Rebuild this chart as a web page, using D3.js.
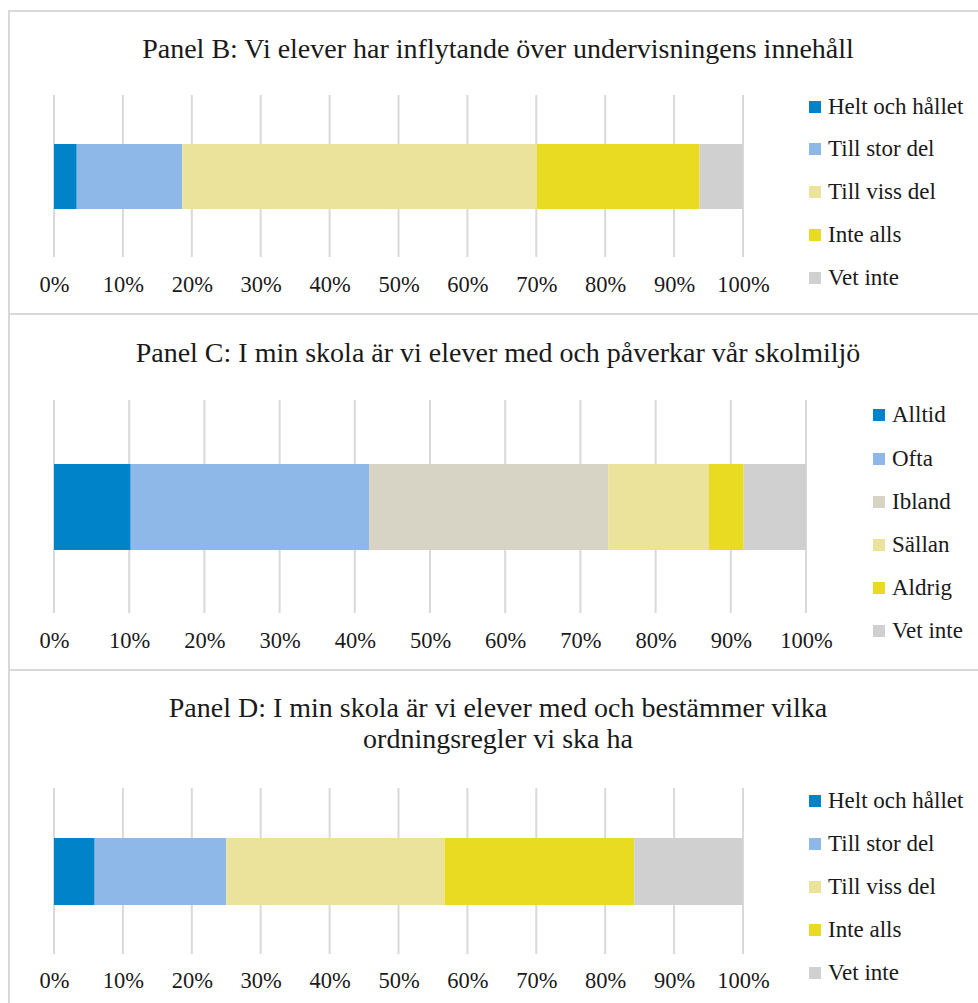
<!DOCTYPE html>
<html><head><meta charset="utf-8">
<script src="https://cdn.jsdelivr.net/npm/d3@7"></script>
<style>body{margin:0;background:#fff}svg{display:block}</style>
</head><body><svg id="c" width="978" height="1003"></svg>
<script>
// ---- data ----
const titleB = ["Panel B: Vi elever har inflytande över undervisningens innehåll"];
const catsB = ["Helt och hållet","Till stor del","Till viss del","Inte alls","Vet inte"];
const valsB = [3.3, 15.3, 51.5, 23.6, 6.3];
const colsB = ["#0083C8","#8DB8E7","#EBE39C","#E9DA22","#D0D0D0"];

const titleC = ["Panel C: I min skola är vi elever med och påverkar vår skolmiljö"];
const catsC = ["Alltid","Ofta","Ibland","Sällan","Aldrig","Vet inte"];
const valsC = [10.2, 31.7, 31.8, 13.4, 4.6, 8.3];
const colsC = ["#0083C8","#8DB8E7","#D7D4C5","#EBE39C","#E9DA22","#D0D0D0"];

const titleD = ["Panel D: I min skola är vi elever med och bestämmer vilka","ordningsregler vi ska ha"];
const catsD = ["Helt och hållet","Till stor del","Till viss del","Inte alls","Vet inte"];
const valsD = [5.9, 19.1, 31.7, 27.5, 15.8];
const colsD = catsD.map((c,i)=>colsB[i]);

const tickVals = [0,10,20,30,40,50,60,70,80,90,100];

// ---- layout ----
const FONT = '"Liberation Serif","DejaVu Serif",serif';
const panels = [
  {title:titleB, cats:catsB, vals:valsB, cols:colsB, box:[11,314], titleY:[58], x0:54, x1:743, gy:[95,257], bar:[144,209], tickY:292, legX:809, legY:[107,149,192,235,278]},
  {title:titleC, cats:catsC, vals:valsC, cols:colsC, box:[314,670], titleY:[362], x0:54, x1:806, gy:[400,613], bar:[464,550], tickY:648, legX:873, legY:[415,459,502,545,588,631]},
  {title:titleD, cats:catsD, vals:valsD, cols:colsD, box:[670,1010], titleY:[717,748], x0:54, x1:743, gy:[788,954], bar:[838,905], tickY:988, legX:809, legY:[801,844,887,930,973]}
];

const svg = d3.select("#c");
svg.append("rect").attr("width",978).attr("height",1003).attr("fill","#fff");

panels.forEach(p=>{
  const g = svg.append("g");
  g.append("rect").attr("x",9).attr("y",p.box[0]).attr("width",1000).attr("height",p.box[1]-p.box[0])
    .attr("fill","none").attr("stroke","#D9D9D9").attr("stroke-width",2);
  p.title.forEach((t,i)=>{
    g.append("text").attr("x",498).attr("y",p.titleY[i]).attr("text-anchor","middle")
      .attr("font-family",FONT).attr("font-size",28).attr("fill","#1a1a1a").text(t);
  });
  const x = d3.scaleLinear().domain([0,100]).range([p.x0,p.x1]);
  g.selectAll(".grid").data(tickVals).enter().append("line")
    .attr("x1",d=>x(d)).attr("x2",d=>x(d)).attr("y1",p.gy[0]).attr("y2",p.gy[1])
    .attr("stroke","#D9D9D9").attr("stroke-width",2);
  let cum = 0;
  const segs = p.vals.map((v,i)=>{const s={x0:cum,x1:cum+v,c:p.cols[i]}; cum+=v; return s;});
  g.selectAll(".seg").data(segs).enter().append("rect")
    .attr("x",d=>x(d.x0)).attr("width",d=>x(d.x1)-x(d.x0))
    .attr("y",p.bar[0]).attr("height",p.bar[1]-p.bar[0]).attr("fill",d=>d.c);
  const ax = d3.axisBottom(x).tickValues(tickVals).tickFormat(d=>d+"%").tickSize(0);
  const axg = g.append("g").attr("transform",`translate(0,${p.tickY})`).call(ax)
    .attr("font-family",FONT).attr("font-size",22.5);
  axg.select(".domain").remove();
  axg.selectAll("text").attr("dy",0).attr("y",0).attr("fill","#1a1a1a");
  const lg = g.selectAll(".leg").data(p.cats).enter().append("g")
    .attr("transform",(d,i)=>`translate(${p.legX},${p.legY[i]})`);
  lg.append("rect").attr("x",0).attr("y",-6).attr("width",12).attr("height",12).attr("fill",(d,i)=>p.cols[i]);
  lg.append("text").attr("x",19).attr("y",7).attr("font-family",FONT).attr("font-size",23)
    .attr("fill","#1a1a1a").text(d=>d);
});
</script></body></html>
